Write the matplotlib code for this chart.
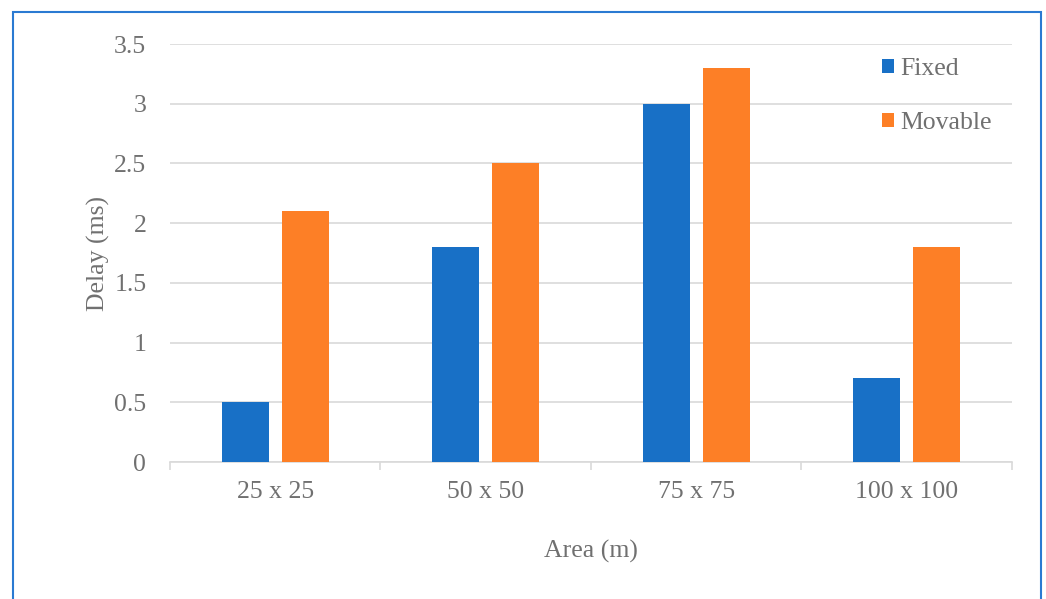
import numpy as np
import matplotlib.pyplot as plt
from matplotlib.patches import Rectangle

plt.rcParams['font.family'] = ['Liberation Serif', 'DejaVu Serif']

# Delay per deployment area
areas = ["25 x 25", "50 x 50", "75 x 75", "100 x 100"]
fixed = [0.5, 1.8, 3.0, 0.7]
movable = [2.1, 2.5, 3.3, 1.8]
yticks = [0, 0.5, 1, 1.5, 2, 2.5, 3, 3.5]

blue = "#1870c6"
orange = "#fd7f26"
text_gray = "#707070"
grid_gray = "#d9d9d9"
fs = 18.5

fig = plt.figure(figsize=(10.46, 5.99), dpi=100)
ax = fig.add_axes([0.1625, 0.2287, 0.805, 0.6978])

# outer frame around the whole chart
fig.patches.append(Rectangle((13 / 1046, -0.05), (1041 - 13) / 1046, 1 - 12 / 599 + 0.05,
                             transform=fig.transFigure, fill=False,
                             edgecolor="#2a7ad2", linewidth=1.5))

x = np.arange(len(areas))
w = 0.223
off = 0.143
ax.bar(x - off, fixed, w, color=blue, label="Fixed", zorder=3)
ax.bar(x + off, movable, w, color=orange, label="Movable", zorder=3)

ax.set_xlim(-0.5, len(areas) - 0.5)
ax.set_ylim(0, 3.5)
ax.set_yticks(yticks)
ax.set_yticklabels([f"{v:g}" for v in yticks])
ax.yaxis.grid(True, color=grid_gray, linewidth=1.2, zorder=0)

ax.set_xticks(x)
ax.set_xticklabels(areas)
ax.set_xticks(np.arange(len(areas) + 1) - 0.5, minor=True)
ax.tick_params(axis='x', which='major', length=0, pad=14, labelsize=fs, labelcolor=text_gray)
ax.tick_params(axis='x', which='minor', length=6, width=1.2, color=grid_gray)
ax.tick_params(axis='y', length=0, pad=17, labelsize=fs, labelcolor=text_gray)

for side in ["top", "right", "left"]:
    ax.spines[side].set_visible(False)
ax.spines["bottom"].set_color(grid_gray)
ax.spines["bottom"].set_linewidth(1.2)

ax.set_xlabel("Area (m)", fontsize=fs, color=text_gray, labelpad=26)
ax.set_ylabel("Delay (ms)", fontsize=fs, color=text_gray, labelpad=3)

leg = ax.legend(loc="upper left", bbox_to_anchor=(0.846, 0.966), frameon=False,
                fontsize=fs, handlelength=0.45, handleheight=0.45, handletextpad=0.25,
                labelspacing=1.25, borderpad=0, borderaxespad=0)
for t in leg.get_texts():
    t.set_color(text_gray)

fig.savefig("out.png", dpi=100)
